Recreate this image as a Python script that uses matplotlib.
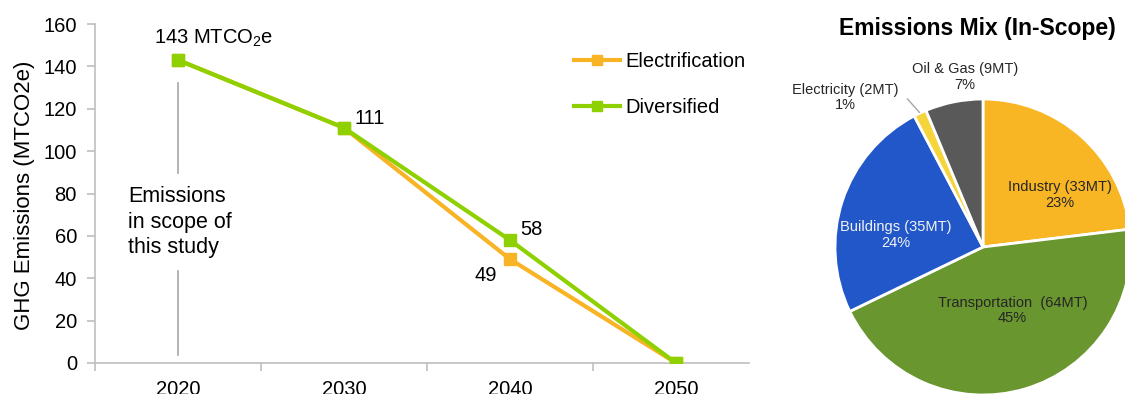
import matplotlib
matplotlib.use("Agg")
import matplotlib.pyplot as plt
import numpy as np

plt.rcParams['font.family'] = ['Liberation Sans', 'DejaVu Sans']

# ---- data ----
years = ["2020", "2030", "2040", "2050"]
electrification = [143, 111, 49, 0]
diversified = [143, 111, 58, 0]

sectors = ["Industry", "Transportation", "Buildings", "Electricity", "Oil & Gas"]
sector_mt = [33, 64, 35, 2, 9]
sector_labels = ["Industry (33MT)\n23%", "Transportation  (64MT)\n45%",
                 "Buildings (35MT)\n24%", "Electricity (2MT)\n1%", "Oil & Gas (9MT)\n7%"]
sector_colors = ["#F8B625", "#6A962F", "#2257C9", "#F6D43C", "#595959"]

W, H = 1125, 394
fig = plt.figure(figsize=(W / 100, H / 100), dpi=100)

# ---- line chart ----
ax = fig.add_axes([95 / W, 31 / H, 654 / W, 339 / H])
x = np.arange(len(years))
orange = "#F8B425"
green = "#8FD000"
ax.plot(x, electrification, color=orange, lw=3, marker="s", ms=8.5, zorder=3,
        label="Electrification")
ax.plot(x, diversified, color=green, lw=3, marker="s", ms=8.5, zorder=4,
        label="Diversified")
ax.set_xlim(-0.5, 3.44)
ax.set_ylim(0, 160)
ax.set_yticks(range(0, 161, 20))
ax.set_xticks(x)
ax.set_xticklabels(years)
ax.set_xticks([-0.5, 0.5, 1.5, 2.5], minor=True)
for s in ["top", "right"]:
    ax.spines[s].set_visible(False)
for s in ["left", "bottom"]:
    ax.spines[s].set_color("#BFBFBF")
    ax.spines[s].set_linewidth(1.2)
ax.tick_params(axis="y", length=6, width=1.2, color="#BFBFBF", pad=7, labelsize=14.5)
ax.tick_params(axis="x", which="major", length=0, pad=12, labelsize=14.5)
ax.tick_params(axis="x", which="minor", length=6, width=1.2, color="#BFBFBF")

fig.text(25 / W, 1 - 195 / H, "GHG Emissions (MTCO2e)", rotation=90,
         ha="center", va="center", fontsize=16)

ax.text(-0.145, 153, "143 MTCO$\\mathregular{_2}$e", ha="left", va="center", fontsize=14.5)
ax.text(1.066, 115.5, "111", ha="left", va="center", fontsize=14.5)
ax.text(2.06, 63, "58", ha="left", va="center", fontsize=14.5)
ax.text(1.92, 41.5, "49", ha="right", va="center", fontsize=14.5)

ax.plot([0, 0], [89.5, 132], color="#A6A6A6", lw=1.2, zorder=1)
ax.plot([0, 0], [4, 43.5], color="#A6A6A6", lw=1.2, zorder=1)
ax.text(-0.30, 66.5, "Emissions\nin scope of\nthis study", ha="left", va="center",
        fontsize=15.5, linespacing=1.27)

leg = ax.legend(loc="upper left", bbox_to_anchor=(574 / W, 1 - 52 / H),
                bbox_transform=fig.transFigure, frameon=False, fontsize=14.5,
                handlelength=2.3, handletextpad=0.25, labelspacing=1.35,
                borderpad=0, borderaxespad=0, markerscale=0.9)

# ---- pie chart ----
cx, cy, r = 983, 247, 148
pax = fig.add_axes([(cx - r) / W, (H - cy - r) / H, 2 * r / W, 2 * r / H])
pax.pie(sector_mt, colors=sector_colors, startangle=90, counterclock=False,
        wedgeprops=dict(edgecolor="white", linewidth=2))
pax.set_xlim(-1, 1)
pax.set_ylim(-1, 1)
pax.set_aspect("auto")
pax.axis("off")

label_pos = [(0.52, 0.35), (0.20, -0.43), (-0.59, 0.08), (-0.93, 1.01), (-0.12, 1.15)]
label_col = ["#262626", "#262626", "#F2F2F2", "#262626", "#262626"]
for (px, py), lab, c in zip(label_pos, sector_labels, label_col):
    pax.text(px, py, lab, ha="center", va="center", fontsize=10.5, color=c,
             linespacing=1.15, clip_on=False)
pax.plot([-0.51, -0.43], [1.0, 0.91], color="#A6A6A6", lw=1, clip_on=False)

fig.text(977 / W, 1 - 29 / H, "Emissions Mix (In-Scope)", ha="center", va="center",
         fontsize=16.5, fontweight="bold")

fig.savefig("out.png", dpi=100)
